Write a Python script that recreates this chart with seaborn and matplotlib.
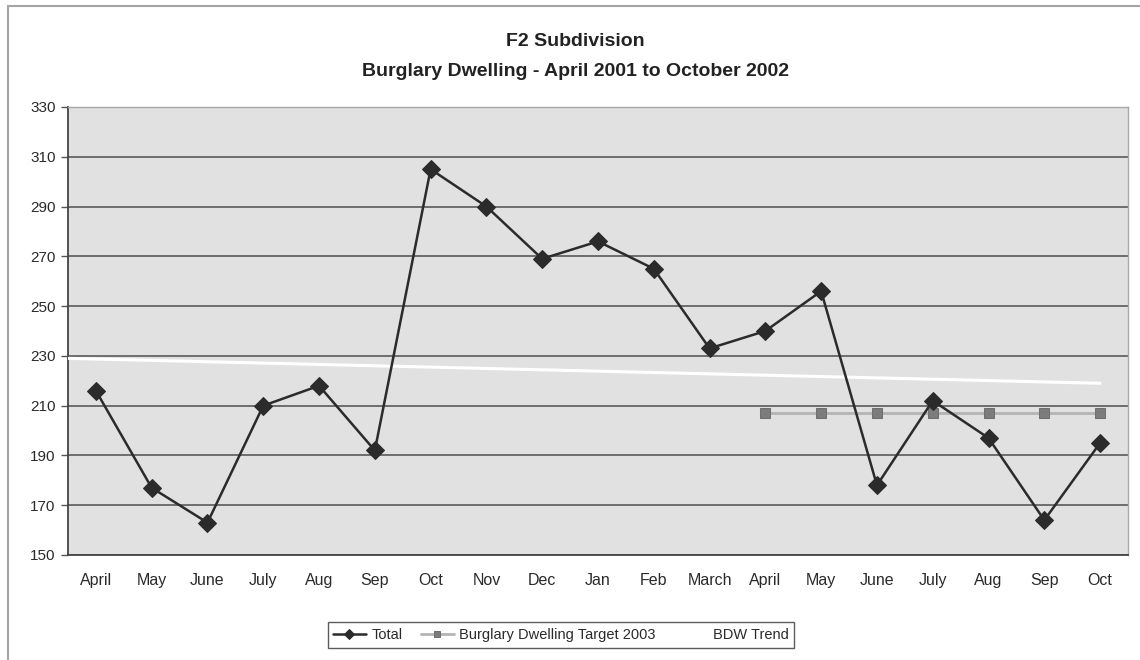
import matplotlib
matplotlib.use("Agg")
import matplotlib.pyplot as plt
from matplotlib.patches import Rectangle
import seaborn as sns
import pandas as pd
import numpy as np

# Monthly burglary dwelling counts, April 2001 - October 2002
months = ["April", "May", "June", "July", "Aug", "Sep", "Oct", "Nov", "Dec",
          "Jan", "Feb", "March", "April", "May", "June", "July", "Aug", "Sep", "Oct"]
total = [216, 177, 163, 210, 218, 192, 305, 290, 269,
         276, 265, 233, 240, 256, 178, 212, 197, 164, 195]

# 2003 target, shown from April 2002 onward
target_start = 12
target = [207, 207, 207, 207, 207, 207, 207]

# Trend line end values (first and last month)
trend = [229, 219]

y_ticks = [150, 170, 190, 210, 230, 250, 270, 290, 310, 330]

sns.set_theme(style="white")
plt.rcParams["font.family"] = ["Liberation Sans", "DejaVu Sans"]

fig = plt.figure(figsize=(11.4, 6.6), dpi=100)
fig.patch.set_facecolor("white")

# Outer chart frame
fig.patches.append(Rectangle((8 / 1140, -0.1), 1.2, 1 - 6 / 660 + 0.1,
                             transform=fig.transFigure, fill=False,
                             edgecolor="#a5a5a5", linewidth=1.5))

ax = fig.add_axes([68 / 1140, 1 - 555 / 660, (1128 - 68) / 1140, (555 - 107) / 660])
ax.set_facecolor("#e1e1e1")

df_total = pd.DataFrame({"pos": np.arange(len(total)), "value": total})
df_target = pd.DataFrame({"pos": np.arange(target_start, target_start + len(target)),
                          "value": target})
df_trend = pd.DataFrame({"pos": [-0.5, len(total) - 1], "value": trend})

sns.lineplot(data=df_trend, x="pos", y="value", ax=ax, color="white",
             linewidth=2.2, label="BDW Trend", zorder=3)
sns.lineplot(data=df_target, x="pos", y="value", ax=ax, color="#b4b4b4",
             linewidth=2.0, marker="s", markersize=6.5, markeredgecolor="#707070",
             markerfacecolor="#7c7c7c", label="Burglary Dwelling Target 2003", zorder=4)
sns.lineplot(data=df_total, x="pos", y="value", ax=ax, color="#2b2b2b",
             linewidth=1.8, marker="D", markersize=9, markeredgecolor="#2b2b2b",
             markerfacecolor="#2b2b2b", label="Total", zorder=5)

ax.set_xlim(-0.5, len(total) - 0.5)
ax.set_ylim(150, 330)
ax.set_yticks(y_ticks)
ax.set_yticklabels([str(v) for v in y_ticks])
ax.set_xticks(np.arange(len(months)))
ax.set_xticklabels(months)
ax.set_xticks(np.arange(-0.5, len(months)), minor=True)
ax.set_xlabel("")
ax.set_ylabel("")

ax.grid(axis="y", color="#5a5a5a", linewidth=1.2, zorder=1)
ax.set_axisbelow(True)

ax.tick_params(axis="x", which="major", length=0, pad=13, labelsize=11.5, labelcolor="#2a2a2a")
ax.tick_params(axis="x", which="minor", length=5, width=1, color="#555555", direction="out")
ax.tick_params(axis="y", which="major", length=5, width=1, color="#555555",
               direction="out", left=True, labelsize=11, labelcolor="#2a2a2a", pad=4)

for side in ["left", "bottom"]:
    ax.spines[side].set_color("#444444")
    ax.spines[side].set_linewidth(1.3)
for side in ["top", "right"]:
    ax.spines[side].set_color("#a8a8a8")
    ax.spines[side].set_linewidth(1.0)

fig.text(0.505, 1 - 42 / 660, "F2 Subdivision", ha="center", va="center",
         fontsize=14, fontweight="bold", color="#222222")
fig.text(0.505, 1 - 71 / 660, "Burglary Dwelling - April 2001 to October 2002",
         ha="center", va="center", fontsize=14, fontweight="bold", color="#222222")

handles, labels = ax.get_legend_handles_labels()
order = [labels.index("Total"), labels.index("Burglary Dwelling Target 2003"),
         labels.index("BDW Trend")]
leg = ax.legend([handles[i] for i in order], [labels[i] for i in order],
                loc="center", bbox_to_anchor=(561 / 1140, 1 - 635 / 660),
                bbox_transform=fig.transFigure, ncol=3, frameon=True,
                fontsize=10.5, handlelength=2.2, handletextpad=0.4, columnspacing=1.3,
                borderpad=0.4, fancybox=False, markerscale=0.6)
leg.get_frame().set_edgecolor("#333333")
leg.get_frame().set_linewidth(1.0)
for t in leg.get_texts():
    t.set_color("#2a2a2a")

fig.savefig("out.png", dpi=100, facecolor="white")
